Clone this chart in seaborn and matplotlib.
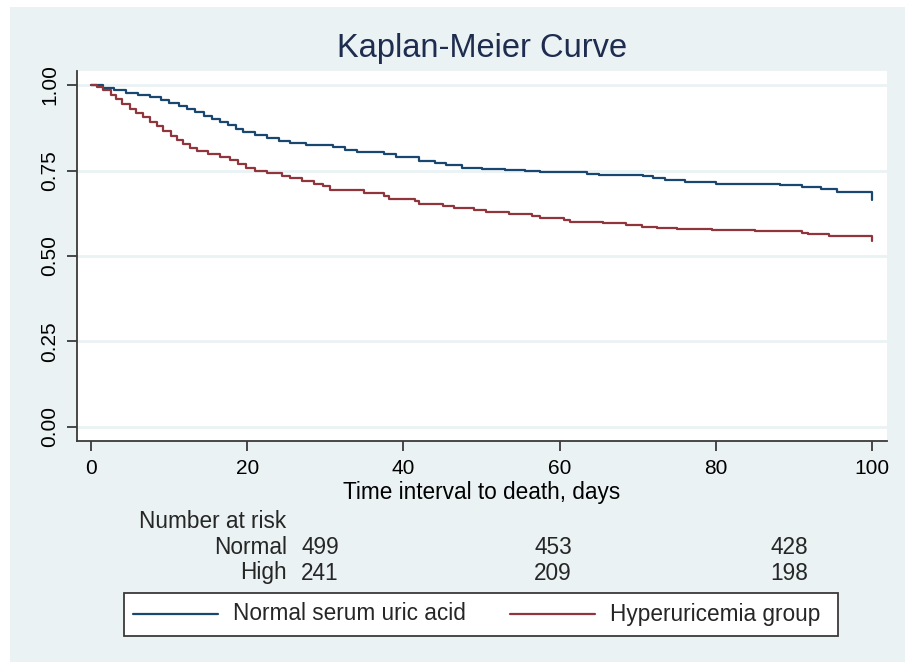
import numpy as np
import pandas as pd
import matplotlib
matplotlib.use("Agg")
import matplotlib.pyplot as plt
import seaborn as sns
from matplotlib.patches import Rectangle
from matplotlib.lines import Line2D

# ---- data ----
normal_t = [0, 1.5, 3, 4.5, 6, 7.5, 9, 10, 11.2, 12.3, 13.3, 14.5, 15.5, 16.5, 17.5, 18.5, 19.5,
            21, 22.5, 24, 25.5, 27.5, 31, 32.5, 34, 37.5, 39, 42, 44, 45.5, 47.5, 50, 53, 55.5,
            57.5, 63.5, 65, 70.7, 72, 73.5, 76, 80, 84, 88.2, 91, 93.5, 95.5, 100, 100]
normal_s = [1.000, 0.992, 0.985, 0.978, 0.972, 0.965, 0.955, 0.946, 0.938, 0.930, 0.922, 0.910,
            0.902, 0.893, 0.882, 0.872, 0.862, 0.853, 0.845, 0.836, 0.829, 0.825, 0.819, 0.811,
            0.803, 0.797, 0.789, 0.777, 0.772, 0.765, 0.758, 0.755, 0.752, 0.748, 0.745, 0.741,
            0.737, 0.733, 0.727, 0.722, 0.715, 0.712, 0.710, 0.707, 0.702, 0.697, 0.688, 0.688, 0.664]

high_t = [0, 0.8, 1.5, 2.5, 3.2, 4, 5, 5.8, 6.7, 7.6, 8.5, 9.2, 10.2, 11, 11.8, 12.7, 13.5, 15,
          16.5, 17.8, 18.8, 19.8, 21, 22.5, 24.5, 25.5, 27, 28.5, 29.7, 30.6, 35, 37.5, 38.2,
          41.5, 42, 45, 46.5, 49, 50.5, 53.5, 56.5, 57.5, 60.5, 61.3, 65.5, 68.5, 70.5, 72.5,
          75, 79.5, 85, 91, 91.8, 94.5, 100, 100]
high_s = [1.000, 0.993, 0.985, 0.972, 0.958, 0.944, 0.930, 0.918, 0.906, 0.893, 0.880, 0.866,
          0.852, 0.840, 0.828, 0.815, 0.806, 0.798, 0.790, 0.780, 0.768, 0.758, 0.748, 0.742,
          0.735, 0.727, 0.718, 0.712, 0.706, 0.693, 0.684, 0.676, 0.666, 0.660, 0.652, 0.647,
          0.640, 0.634, 0.628, 0.624, 0.617, 0.610, 0.604, 0.599, 0.596, 0.590, 0.586, 0.581,
          0.579, 0.577, 0.574, 0.568, 0.563, 0.558, 0.558, 0.545]

group_labels = ["Normal serum uric acid", "Hyperuricemia group"]
risk_rows = ["Normal", "High"]
risk_normal = [499, 453, 428]
risk_high = [241, 209, 198]
x_ticks = [0, 20, 40, 60, 80, 100]
y_ticks = [0.00, 0.25, 0.50, 0.75, 1.00]

BLUE = "#1A476F"
RED = "#90353B"
BG = "#EAF2F3"
SPINE = "#3a3a3a"

sns.set_style("white")
plt.rcParams["font.family"] = ["Liberation Sans", "DejaVu Sans"]

W, H = 905, 662
fig = plt.figure(figsize=(W / 100, H / 100), dpi=100, facecolor="white")
fig.patches.append(Rectangle((10 / W, 0), 1 - 10 / W, 1 - 7 / H, transform=fig.transFigure,
                             facecolor=BG, edgecolor="none", zorder=-10))

def fx(px):
    return px / W

def fy(py):
    return 1 - py / H

ax = fig.add_axes([fx(77), fy(441), fx(887) - fx(77), fy(71) - fy(441)])
ax.set_facecolor("white")

df = pd.concat([
    pd.DataFrame({"t": normal_t, "s": normal_s, "g": group_labels[0]}),
    pd.DataFrame({"t": high_t, "s": high_s, "g": group_labels[1]}),
], ignore_index=True)

sns.lineplot(data=df, x="t", y="s", hue="g", palette=[BLUE, RED], estimator=None,
             sort=False, drawstyle="steps-post", linewidth=1.6, legend=False, ax=ax, zorder=3)

ax.set_xlim(-1.8, 101.9)
ax.set_ylim(-0.041, 1.041)
ax.set_xticks(x_ticks)
ax.set_xticklabels([str(v) for v in x_ticks])
ax.set_yticks(y_ticks)
ax.set_yticklabels([f"{v:.2f}" for v in y_ticks], rotation=90, va="center")
ax.grid(axis="y", color=BG, linewidth=2)
ax.grid(axis="x", visible=False)
ax.set_axisbelow(True)
for side in ["top", "right"]:
    ax.spines[side].set_visible(False)
for side in ["left", "bottom"]:
    ax.spines[side].set_color(SPINE)
    ax.spines[side].set_linewidth(1.3)
ax.tick_params(axis="both", direction="out", length=7, width=1.3, color=SPINE,
               labelsize=15, labelcolor="black", pad=6, left=True, bottom=True)
ax.set_xlabel("")
ax.set_ylabel("")

FS = 16.3
fig.text(fx(482), fy(48), "Kaplan-Meier Curve", ha="center", va="center",
         fontsize=23.5, color="#1E2D4F")
fig.text(fx(482), fy(492), "Time interval to death, days", ha="center", va="center",
         fontsize=FS, color="black")

# number at risk table
fig.text(fx(139), fy(521), "Number at risk", ha="left", va="center", fontsize=FS)
cols_x = [320, 553, 789]
for row, vals, y in [(risk_rows[0], risk_normal, 548), (risk_rows[1], risk_high, 573)]:
    fig.text(fx(287), fy(y), row, ha="right", va="center", fontsize=FS)
    for cx, v in zip(cols_x, vals):
        fig.text(fx(cx), fy(y), str(v), ha="center", va="center", fontsize=FS)

# legend box
fig.patches.append(Rectangle((fx(124), fy(636)), fx(838) - fx(124), fy(593) - fy(636),
                             transform=fig.transFigure, facecolor="white",
                             edgecolor=SPINE, linewidth=1.3, zorder=1))
for (x0, x1, tx), col, lab in [((133, 218, 233), BLUE, group_labels[0]),
                               ((510, 595, 610), RED, group_labels[1])]:
    fig.lines.append(Line2D([fx(x0), fx(x1)], [fy(614), fy(614)], transform=fig.transFigure,
                            color=col, linewidth=1.6, zorder=2))
    fig.text(fx(tx), fy(614), lab, ha="left", va="center", fontsize=FS, zorder=3)

fig.savefig("out.png", dpi=100, facecolor="white")
